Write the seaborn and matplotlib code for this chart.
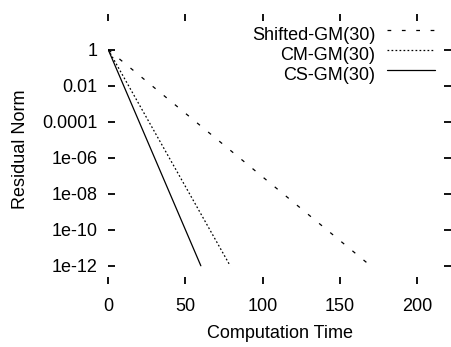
import matplotlib
matplotlib.use("Agg")
import matplotlib.pyplot as plt
import seaborn as sns
import pandas as pd

# residual history (time, residual norm)
shifted_time = [0, 170]
shifted_res = [1.0, 1e-12]
cm_time = [0, 79]
cm_res = [1.0, 1e-12]
cs_time = [0, 60]
cs_res = [1.0, 1e-12]

series_names = ["Shifted-GM(30)", "CM-GM(30)", "CS-GM(30)"]
x_ticks = [0, 50, 100, 150, 200]
y_ticks = [1, 1e-2, 1e-4, 1e-6, 1e-8, 1e-10, 1e-12]
y_tick_labels = ["1", "0.01", "0.0001", "1e-06", "1e-08", "1e-10", "1e-12"]

sns.set_style("ticks")
plt.rcParams["font.family"] = ["Liberation Sans", "DejaVu Sans"]
plt.rcParams["font.size"] = 13
for key in ["text.color", "axes.labelcolor", "xtick.color", "ytick.color"]:
    plt.rcParams[key] = "black"

fig = plt.figure(figsize=(4.51, 3.47), dpi=100)
ax = fig.add_axes([0.2401, 0.1822, 0.7594, 0.7781])

df = pd.concat([
    pd.DataFrame({"time": shifted_time, "res": shifted_res, "method": series_names[0]}),
    pd.DataFrame({"time": cm_time, "res": cm_res, "method": series_names[1]}),
    pd.DataFrame({"time": cs_time, "res": cs_res, "method": series_names[2]}),
])

dash_styles = {
    series_names[0]: (3, 8.5),
    series_names[1]: (1.4, 1.8),
    series_names[2]: "",
}
sns.lineplot(data=df, x="time", y="res", hue="method", style="method",
             palette=["black"] * 3, dashes=dash_styles, linewidth=0.9,
             ax=ax, legend=True)

ax.set_yscale("log")
ax.set_xlim(0, 222)
ax.set_ylim(1e-13, 1e2)
ax.set_xticks(x_ticks)
ax.set_xticklabels([str(t) for t in x_ticks])
ax.set_yticks(y_ticks)
ax.set_yticklabels(y_tick_labels)
ax.minorticks_off()

for s in ax.spines.values():
    s.set_visible(False)
ax.tick_params(direction="in", length=5.2, width=1.3, color="black",
               top=True, right=True, labeltop=False, labelright=False,
               labelsize=13)
ax.tick_params(axis="y", pad=7.5)
ax.tick_params(axis="x", pad=10)

ax.set_xlabel("Computation Time", fontsize=13, labelpad=7.5)
ax.set_ylabel("Residual Norm", fontsize=13, labelpad=10)

handles, labels = ax.get_legend_handles_labels()
leg = ax.legend(handles, labels, loc="upper right", frameon=False,
                markerfirst=False, handlelength=2.65, handletextpad=0.66,
                labelspacing=0.16, borderpad=0, borderaxespad=0,
                bbox_to_anchor=(435 / 451, 1 - 27 / 347),
                bbox_transform=fig.transFigure, fontsize=13)
# gnuplot draws the key samples a little above the text centre
for line in leg.get_lines():
    line.set_ydata([y + 2.5 for y in line.get_ydata()])

fig.savefig("out.png", dpi=100)
